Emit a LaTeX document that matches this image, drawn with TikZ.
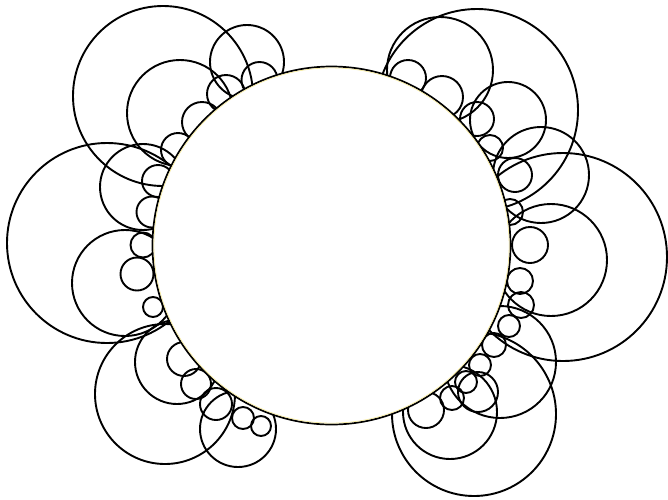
\documentclass[tikz,border=0pt]{standalone}
\usepackage{tikz}
\definecolor{rimyellow}{RGB}{245,232,150}
\begin{document}
\begin{tikzpicture}[
    x=1pt, y=-1pt,
    ring/.style={draw=black, line width=1.9pt},
    disc/.style={draw=black, fill=white, line width=1.7pt}
]
    \useasboundingbox (0,0) rectangle (668,499);

    % large circles, left side
    \foreach \cx/\cy/\r in {163/96/90, 247/62/37, 180/113/53, 107/243/100,
        143/187/43, 125/283/53, 165/394/70, 177/362/42, 238/429/38}
        \draw[ring] (\cx,\cy) circle (\r pt);

    % large circles, right side
    \foreach \cx/\cy/\r in {477/110/101, 440/70/53, 508/120/38, 541/175/48,
        563/257/104, 551/260/56, 500/362/56, 474/414/82, 450/412/47}
        \draw[ring] (\cx,\cy) circle (\r pt);

    % small bumps along the rim, left
    \foreach \cx/\cy/\r in {259.5/80/18, 226/94/19, 202/122/20, 178/150/17,
        158/181/16, 152/212/15.5, 143/245/12.5, 137/274/16.5, 153/307/10,
        184/359/17, 196/384/15, 216/404/16, 243/418/11, 261/426/10}
        \draw[ring] (\cx,\cy) circle (\r pt);

    % small bumps along the rim, right
    \foreach \cx/\cy/\r in {408/78/18, 442/97/21, 477/119/17, 490/148/13,
        515/175/17, 510/212/13, 530/245/18, 520/281/13, 521/305/13,
        509/326/11, 494/345/12, 480/365/11, 466/382/11, 478/392/20,
        452/398/12, 426/410/18}
        \draw[ring] (\cx,\cy) circle (\r pt);

    % central disc on top
    \draw[disc] (331.5,245.5) circle (179pt);
    \draw[rimyellow, line width=0.6pt] (331.5,245.5) circle (177.6pt);
\end{tikzpicture}
\end{document}
